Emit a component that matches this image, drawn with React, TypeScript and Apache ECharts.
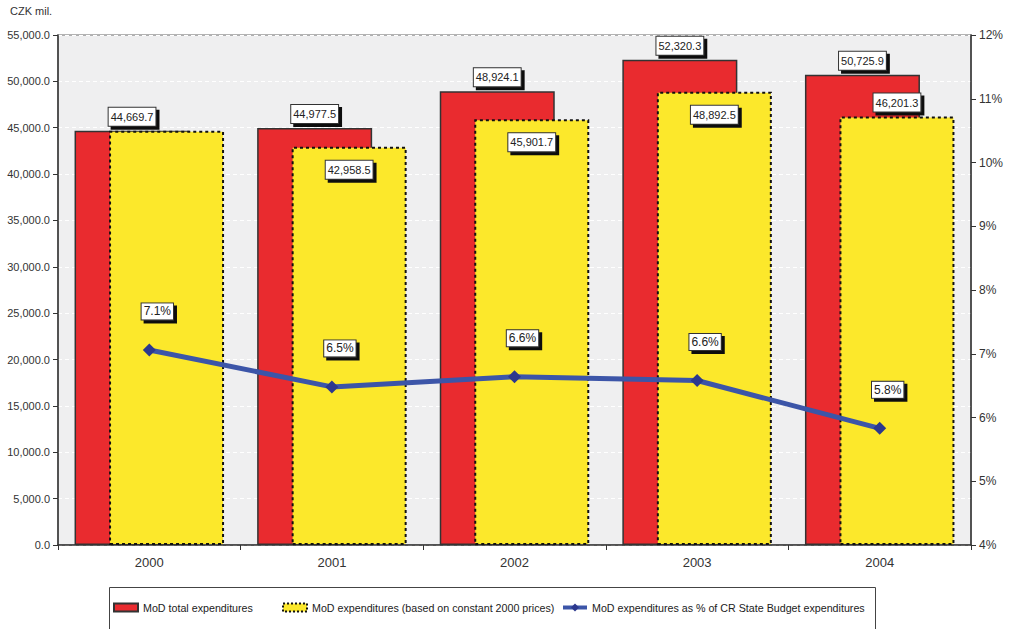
import React, { useEffect, useRef } from "react";
import * as echarts from "echarts";

const years = ["2000", "2001", "2002", "2003", "2004"];
const totalExpenditures = [44669.7, 44977.5, 48924.1, 52320.3, 50725.9];
const constantPriceExpenditures = [44669.7, 42958.5, 45901.7, 48892.5, 46201.3];
const shareOfBudget = [7.06, 6.48, 6.64, 6.58, 5.83];
// where the label of the constant-price bar sits: hidden / inside (below top) / above
const constantLabelPlacement = ["hidden", "inside", "inside", "inside", "above"];

const FONT = "'Liberation Sans', Arial, Helvetica, sans-serif";

const fmtNum = (v: number) =>
  v.toLocaleString("en-US", { minimumFractionDigits: 1, maximumFractionDigits: 1 });

const boxLabel = {
  color: "#222",
  fontFamily: FONT,
  fontSize: 11,
  lineHeight: 14,
  backgroundColor: "#ffffff",
  borderColor: "#333",
  borderWidth: 1,
  padding: [2, 2, 2, 2],
  shadowColor: "#111",
  shadowOffsetX: 3,
  shadowOffsetY: 3,
  shadowBlur: 0,
};

const legendText = { fontSize: 10.7, color: "#222", fontFamily: FONT };

export default function App() {
  const ref = useRef<HTMLDivElement>(null);
  useEffect(() => {
    if (!ref.current) return;
    const chart = echarts.init(ref.current, undefined, { renderer: "svg" });
    const option: any = {
      animation: false,
      textStyle: { fontFamily: FONT },
      grid: {
        left: 58,
        right: 38,
        top: 35,
        bottom: 84,
        show: true,
        backgroundColor: "#efeff0",
        borderColor: "#9a9a9a",
        borderWidth: 1.5,
      },
      graphic: [
        {
          type: "text",
          left: 10,
          top: 5,
          style: { text: "CZK mil.", fill: "#333", font: `11px ${FONT}` },
        },
        {
          type: "rect",
          shape: { x: 109.5, y: 587.5, width: 766, height: 60 },
          style: { fill: "transparent", stroke: "#444", lineWidth: 1 },
          z: -1,
        },
      ],
      legend: [
        {
          data: [{ name: "MoD total expenditures", icon: "rect" }],
          left: 113,
          top: 602,
          padding: 0,
          itemWidth: 24,
          itemHeight: 8,
          textStyle: legendText,
        },
        {
          data: [{ name: "MoD expenditures (based on constant 2000 prices)", icon: "rect" }],
          left: 282,
          top: 602,
          padding: 0,
          itemWidth: 24,
          itemHeight: 8,
          itemStyle: { borderColor: "#111", borderWidth: 2, borderType: [2, 2] },
          textStyle: legendText,
        },
        {
          data: ["MoD expenditures as % of CR State Budget expenditures"],
          left: 561,
          top: 602,
          padding: 0,
          itemWidth: 24,
          itemHeight: 10,
          lineStyle: { width: 4, color: "#3c55a8" },
          textStyle: legendText,
        },
      ],
      xAxis: {
        type: "category",
        data: years,
        axisLine: { lineStyle: { color: "#333", width: 1.5 } },
        axisTick: { show: true, length: 5, lineStyle: { color: "#333" } },
        axisLabel: { color: "#333", fontSize: 13, margin: 11, fontFamily: FONT },
      },
      yAxis: [
        {
          type: "value",
          min: 0,
          max: 55000,
          interval: 5000,
          axisLine: { show: true, lineStyle: { color: "#333", width: 1.5 } },
          axisTick: { show: true, length: 5, lineStyle: { color: "#333" } },
          axisLabel: {
            color: "#333",
            fontSize: 11,
            margin: 8,
            fontFamily: FONT,
            formatter: (v: number) => fmtNum(v),
          },
          splitLine: { show: true, lineStyle: { color: "#ffffff", type: [4, 3], width: 1 } },
        },
        {
          type: "value",
          min: 4,
          max: 12,
          interval: 1,
          axisLine: { show: true, lineStyle: { color: "#333", width: 1.5 } },
          axisTick: { show: true, length: 5, lineStyle: { color: "#333" } },
          axisLabel: {
            color: "#333",
            fontSize: 12,
            margin: 8,
            fontFamily: FONT,
            formatter: "{value}%",
          },
          splitLine: { show: false },
        },
      ],
      series: [
        {
          name: "MoD total expenditures",
          type: "bar",
          data: totalExpenditures,
          barWidth: 115,
          barGap: "-70%",
          itemStyle: { color: "#e92b2f", borderColor: "#333", borderWidth: 1.5 },
          label: {
            show: true,
            position: "top",
            distance: 5,
            formatter: (p: any) => fmtNum(p.value),
            ...boxLabel,
          },
        },
        {
          name: "MoD expenditures (based on constant 2000 prices)",
          type: "bar",
          barWidth: 115,
          barGap: "-70%",
          data: constantPriceExpenditures.map((v, i) => {
            const place = constantLabelPlacement[i];
            const label =
              place === "hidden"
                ? { show: false }
                : place === "above"
                ? { position: "top", distance: 5 }
                : { position: "insideTop", distance: 14 };
            return { value: v, label };
          }),
          itemStyle: {
            color: "#fce82b",
            borderColor: "#111",
            borderWidth: 2,
            borderType: [3, 3],
          },
          label: {
            show: true,
            formatter: (p: any) => fmtNum(p.value),
            ...boxLabel,
          },
        },
        {
          name: "MoD expenditures as % of CR State Budget expenditures",
          type: "line",
          yAxisIndex: 1,
          data: shareOfBudget,
          z: 5,
          symbol: "diamond",
          symbolSize: 13,
          lineStyle: { color: "#3c55a8", width: 5 },
          itemStyle: { color: "#2c388e" },
          label: {
            show: true,
            position: "top",
            distance: 24,
            offset: [8, 0],
            formatter: (p: any) => `${Number(p.value).toFixed(1)}%`,
            ...boxLabel,
            fontSize: 12,
            padding: [1, 2, 1, 2],
          },
        },
      ],
    };
    chart.setOption(option);
    return () => chart.dispose();
  }, []);
  return (
    <div
      ref={ref}
      style={{ position: "absolute", left: 0, top: 0, width: 1009, height: 629, background: "#fff" }}
    />
  );
}
